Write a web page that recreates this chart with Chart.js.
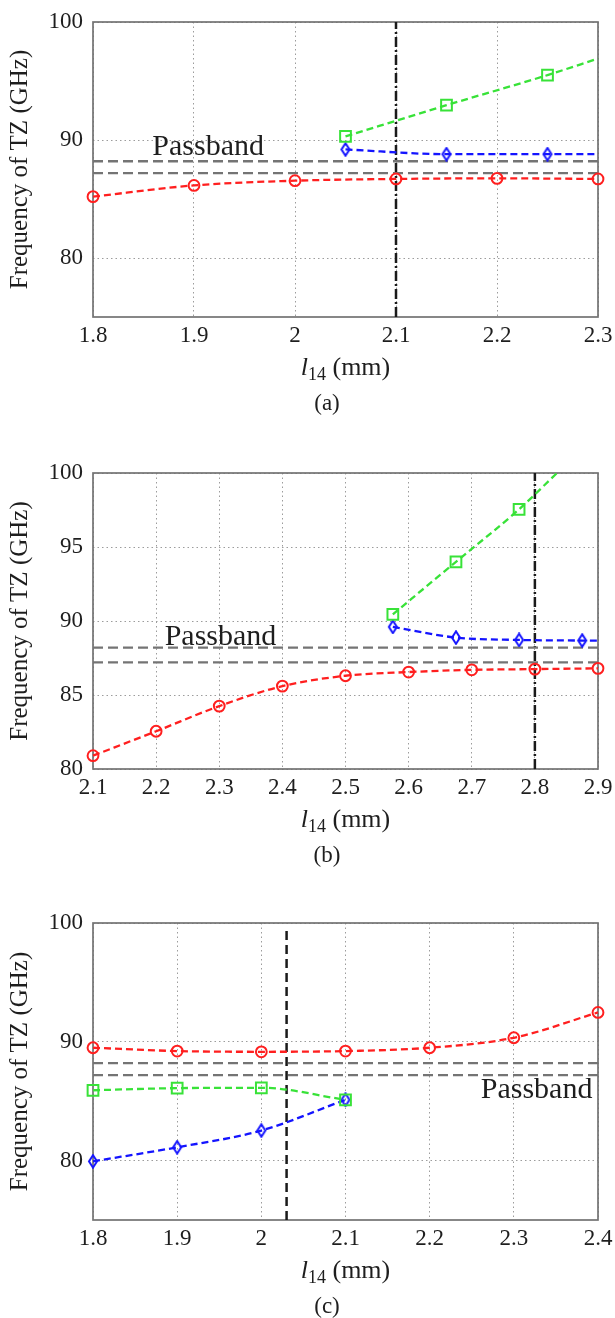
<!DOCTYPE html>
<html>
<head>
<meta charset="utf-8">
<script src="https://cdn.jsdelivr.net/npm/chart.js@4.4.0/dist/chart.umd.min.js"></script>
<style>
  html, body { margin: 0; padding: 0; background: #fff; }
  #wrap { position: relative; width: 615px; height: 1318px; }
  canvas { position: absolute; left: 0; }
</style>
</head>
<body>
<div id="wrap">
  <canvas id="chartA" width="615" height="420" style="top:0px"></canvas>
  <canvas id="chartB" width="615" height="450" style="top:420px"></canvas>
  <canvas id="chartC" width="615" height="448" style="top:870px"></canvas>
</div>
<script>
// ---- values ----
const passbandEdges = [87.2, 88.2];

// (a)
const aXTicks = [1.8, 1.9, 2, 2.1, 2.2, 2.3];
const aYTicks = [80, 90, 100];
const aRedX = [1.8, 1.9, 2.0, 2.1, 2.2, 2.3];
const aRedY = [85.2, 86.15, 86.55, 86.7, 86.75, 86.7];
const aGreenX = [2.05, 2.15, 2.25];
const aGreenY = [90.3, 92.95, 95.5];
const aGreenTail = [2.3, 96.9];
const aBlueX = [2.05, 2.15, 2.25];
const aBlueY = [89.2, 88.8, 88.8];
const aBlueTail = [2.3, 88.8];
const aMarkLine = [2.1, 75, 100];
const aPassLabel = [1.914, 88.7];

// (b)
const bXTicks = [2.1, 2.2, 2.3, 2.4, 2.5, 2.6, 2.7, 2.8, 2.9];
const bYTicks = [80, 85, 90, 95, 100];
const bRedX = [2.1, 2.2, 2.3, 2.4, 2.5, 2.6, 2.7, 2.8, 2.9];
const bRedY = [80.9, 82.55, 84.25, 85.6, 86.3, 86.55, 86.7, 86.75, 86.8];
const bGreenX = [2.575, 2.675, 2.775];
const bGreenY = [90.45, 94.0, 97.55];
const bGreenTail = [2.835, 100];
const bBlueX = [2.575, 2.675, 2.775, 2.875];
const bBlueY = [89.6, 88.88, 88.72, 88.68];
const bBlueTail = [2.9, 88.67];
const bMarkLine = [2.8, 80, 100];
const bPassLabel = [2.302, 88.36];

// (c)
const cXTicks = [1.8, 1.9, 2, 2.1, 2.2, 2.3, 2.4];
const cYTicks = [80, 90, 100];
const cRedX = [1.8, 1.9, 2.0, 2.1, 2.2, 2.3, 2.4];
const cRedY = [89.5, 89.22, 89.16, 89.22, 89.5, 90.34, 92.47];
const cGreenX = [1.8, 1.9, 2.0, 2.1];
const cGreenY = [85.92, 86.1, 86.13, 85.12];
const cBlueX = [1.8, 1.9, 2.0, 2.1];
const cBlueY = [79.94, 81.12, 82.53, 85.12];
const cMarkLine = [2.03, 75, 99.4];
const cPassLabel = [2.327, 85.24];

// ---- styling ----
const FONT = 'Liberation Serif';
const RED = '#ff1f1f';
const GREEN = '#38e238';
const BLUE = '#1414ff';
const TEXT = '#1e1e1e';

function diamond(color) {
  const c = document.createElement('canvas');
  c.width = 12; c.height = 15;
  const g = c.getContext('2d');
  g.strokeStyle = color;
  g.lineWidth = 2;
  g.beginPath();
  g.moveTo(6, 1.3); g.lineTo(10, 7.5); g.lineTo(6, 13.7); g.lineTo(2, 7.5);
  g.closePath();
  g.stroke();
  return c;
}

function pts(xs, ys, tail) {
  const out = xs.map((x, i) => ({ x: x, y: ys[i] }));
  if (tail) out.push({ x: tail[0], y: tail[1] });
  return out;
}

function series(data, color, style, radius, nMarked) {
  return {
    data: data,
    clip: 10,
    borderColor: color,
    backgroundColor: 'rgba(0,0,0,0)',
    borderWidth: 2.3,
    borderDash: [7, 4],
    cubicInterpolationMode: 'monotone',
    pointStyle: style,
    pointRadius: (ctx) => (ctx.dataIndex < nMarked ? radius : 0),
    pointBorderColor: color,
    pointBackgroundColor: 'rgba(0,0,0,0)',
    pointBorderWidth: 2,
  };
}

function refLine(data, color, dash, width) {
  return {
    data: data,
    borderColor: color,
    borderWidth: width,
    borderDash: dash,
    pointRadius: 0,
    tension: 0,
  };
}

const panelText = {
  id: 'panelText',
  beforeDatasetsDraw(chart) {
    const { ctx, chartArea: a } = chart;
    ctx.save();
    ctx.strokeStyle = '#737373';
    ctx.lineWidth = 1.7;
    ctx.strokeRect(a.left, a.top, a.right - a.left, a.bottom - a.top);
    ctx.restore();
  },
  afterDraw(chart, args, opts) {
    const { ctx, chartArea: a, scales } = chart;
    ctx.save();
    ctx.fillStyle = TEXT;
    ctx.textBaseline = 'alphabetic';
    // Passband label
    ctx.font = '30px "' + FONT + '"';
    ctx.textAlign = 'center';
    ctx.fillText('Passband', scales.x.getPixelForValue(opts.pass[0]), scales.y.getPixelForValue(opts.pass[1]));
    // x axis label: l_14 (mm)
    const parts = [
      { t: 'l', f: 'italic 26px "' + FONT + '"', dy: 0 },
      { t: '14', f: '18px "' + FONT + '"', dy: 5 },
      { t: ' (mm)', f: '26px "' + FONT + '"', dy: 0 },
    ];
    let w = 0;
    parts.forEach((p) => { ctx.font = p.f; p.w = ctx.measureText(p.t).width; w += p.w; });
    let cx = (a.left + a.right) / 2 - w / 2;
    ctx.textAlign = 'left';
    parts.forEach((p) => { ctx.font = p.f; ctx.fillText(p.t, cx, a.bottom + 58 + p.dy); cx += p.w; });
    // caption
    ctx.font = '23px "' + FONT + '"';
    ctx.textAlign = 'center';
    ctx.fillText(opts.caption, 327, a.bottom + 93);
    ctx.restore();
  },
};

function makePanel(id, p) {
  const canvas = document.getElementById(id);
  const H = canvas.height;
  const datasets = [
    series(pts(p.redX, p.redY), RED, 'circle', 5.4, p.redX.length),
    series(pts(p.greenX, p.greenY, p.greenTail), GREEN, 'rect', 7.6, p.greenX.length),
    series(pts(p.blueX, p.blueY, p.blueTail), BLUE, diamond(BLUE), 5, p.blueX.length),
    refLine([{ x: p.xMin, y: passbandEdges[1] }, { x: p.xMax, y: passbandEdges[1] }], '#747474', [10, 5], 2.3),
    refLine([{ x: p.xMin, y: passbandEdges[0] }, { x: p.xMax, y: passbandEdges[0] }], '#747474', [10, 5], 2.3),
    refLine([{ x: p.mark[0], y: p.mark[1] }, { x: p.mark[0], y: p.mark[2] }], '#1a1a1a', p.markDash, 2.5),
  ];
  return new Chart(canvas.getContext('2d'), {
    type: 'line',
    data: { datasets: datasets },
    options: {
      responsive: false,
      animation: false,
      events: [],
      layout: { padding: { top: p.plotTop, right: 17, left: 0, bottom: 0 } },
      plugins: {
        legend: { display: false },
        tooltip: { enabled: false },
        panelText: { pass: p.passLabel, caption: p.caption },
      },
      scales: {
        x: {
          type: 'linear',
          min: p.xMin,
          max: p.xMax,
          afterBuildTicks: (s) => { s.ticks = p.xTicks.map((v) => ({ value: v })); },
          afterFit: (s) => { s.height = H - p.plotBottom; s.paddingLeft = 0; s.paddingRight = 0; },
          grid: { color: '#9c9c9c', lineWidth: 1, drawTicks: false },
          border: { display: false, dash: [1.5, 3] },
          ticks: {
            padding: 5, minRotation: 0, maxRotation: 0, autoSkip: false,
            color: TEXT, font: { family: FONT, size: 23 },
            callback: (v) => String(+v.toFixed(2)),
          },
        },
        y: {
          type: 'linear',
          min: p.yMin,
          max: 100,
          afterBuildTicks: (s) => { s.ticks = p.yTicks.map((v) => ({ value: v })); },
          afterFit: (s) => { s.width = 93; s.paddingTop = 0; s.paddingBottom = 0; },
          grid: { color: '#9c9c9c', lineWidth: 1, drawTicks: false },
          border: { display: false, dash: [1.5, 3] },
          ticks: { padding: 10, color: TEXT, font: { family: FONT, size: 23 }, callback: (v) => String(v) },
          title: {
            display: true, text: 'Frequency of TZ (GHz)', color: TEXT,
            font: { family: FONT, size: 25 }, padding: { top: 5, bottom: 0 },
          },
        },
      },
    },
    plugins: [panelText],
  });
}

makePanel('chartA', {
  xMin: 1.8, xMax: 2.3, yMin: 75, xTicks: aXTicks, yTicks: aYTicks,
  redX: aRedX, redY: aRedY, greenX: aGreenX, greenY: aGreenY, greenTail: aGreenTail,
  blueX: aBlueX, blueY: aBlueY, blueTail: aBlueTail,
  mark: aMarkLine, markDash: [10, 3, 2, 3], passLabel: aPassLabel, caption: '(a)',
  plotTop: 22, plotBottom: 317,
});

makePanel('chartB', {
  xMin: 2.1, xMax: 2.9, yMin: 80, xTicks: bXTicks, yTicks: bYTicks,
  redX: bRedX, redY: bRedY, greenX: bGreenX, greenY: bGreenY, greenTail: bGreenTail,
  blueX: bBlueX, blueY: bBlueY, blueTail: bBlueTail,
  mark: bMarkLine, markDash: [10, 3, 2, 3], passLabel: bPassLabel, caption: '(b)',
  plotTop: 53, plotBottom: 349,
});

makePanel('chartC', {
  xMin: 1.8, xMax: 2.4, yMin: 75, xTicks: cXTicks, yTicks: cYTicks,
  redX: cRedX, redY: cRedY, greenX: cGreenX, greenY: cGreenY, greenTail: null,
  blueX: cBlueX, blueY: cBlueY, blueTail: null,
  mark: cMarkLine, markDash: [9, 5], passLabel: cPassLabel, caption: '(c)',
  plotTop: 53, plotBottom: 350,
});
</script>
</body>
</html>
